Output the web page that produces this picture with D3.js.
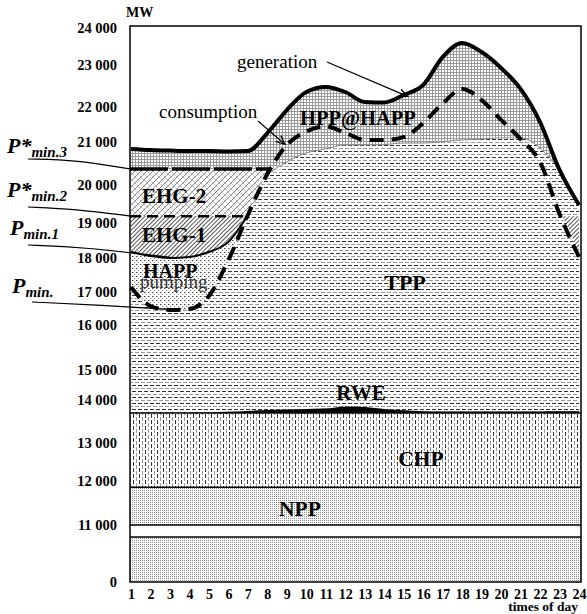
<!DOCTYPE html>
<html>
<head>
<meta charset="utf-8">
<script src="https://cdn.jsdelivr.net/npm/d3@7"></script>
<style>
  body { margin: 0; background: #fff; }
  svg text { font-family: "Liberation Serif", "Times New Roman", serif; }
</style>
</head>
<body>
<div id="chart"></div>
<script>
// Daily load curve, MW by hour
const hours = d3.range(1, 25);
const generation  = [20840, 20815, 20800, 20790, 20790, 20780, 20790, 21257, 21914, 22357, 22476, 22357,
                     22119, 22107, 22286, 22524, 23215, 23595, 23350, 22930, 22430, 21570, 20350, 19475];
const consumption = [17150, 16575, 16455, 16485, 16880, 17940, 19210, 20255, 20930, 21300, 21450, 21260,
                     21060, 21060, 21140, 21540, 22080, 22430, 22165, 21630, 21085, 20535, 19235, 18030];
// thin grey line = top of the TPP block (midday part)
const tppLine     = [null, null, null, null, null, null, null, null, 20535, 20745, 20840, 20930,
                     20930, 20940, 20975, 20975, 21010, 21057, 21085, 21115, 21115, 20860, null, null];
// P min.1 curve (night hours only)
const pMin1 = [18170, 18057, 18000, 18030, 18170, 18460, 19210];
// renewables sliver on top of CHP
const rwe = [0, 0, 0, 0, 10, 25, 45, 70, 80, 90, 100, 150, 140, 90, 60, 40, 35, 35, 35, 35, 35, 35, 40, 40];

const nppTop = 11860;
const chpTop = 13700;
const axisBreak = [10700, 11000];
const pMin2 = 19180;
const pMin3 = 20370;

const yTicks = [0, 11000, 12000, 13000, 14000, 15000, 16000, 17000, 18000, 19000, 20000, 21000, 22000, 23000, 24000];

// hand drawn axis: uneven spacing, so a piecewise scale
const yPix = [582, 537, 525, 481, 443, 400, 370, 325, 292, 258, 223, 185, 142, 107, 65, 28];

const W = 587, H = 614;
const frame = { left: 130, top: 26, right: 581, bottom: 582 };

const x = d3.scaleLinear().domain([1, 24]).range([131, 579]);
const y = d3.scaleLinear().domain([0, axisBreak[0], ...yTicks.slice(1)]).range(yPix);

const rows = hours.map((h, i) => ({
  h,
  gen: generation[i],
  cons: consumption[i],
  tpp: tppLine[i],
  p1: i < pMin1.length ? pMin1[i] : null,
  rweTop: chpTop + rwe[i]
}));
rows.forEach(d => {
  d.tppTop = Math.min(d.gen, d.tpp ?? Infinity, d.h <= 12 ? d.cons : Infinity);
});

// hour where consumption first climbs through a level
function crossing(level) {
  for (let i = 0; i < rows.length - 1; i++) {
    const a = rows[i].cons, b = rows[i + 1].cons;
    if (a < level && b >= level) return rows[i].h + (level - a) / (b - a);
  }
  return 24;
}

const svg = d3.select("#chart").append("svg")
  .attr("width", W).attr("height", H)
  .attr("viewBox", `0 0 ${W} ${H}`);

const defs = svg.append("defs");

function pattern(id, w, h, draw, transform) {
  const p = defs.append("pattern")
    .attr("id", id)
    .attr("patternUnits", "userSpaceOnUse")
    .attr("width", w).attr("height", h);
  if (transform) p.attr("patternTransform", transform);
  p.append("rect").attr("width", w).attr("height", h).attr("fill", "#fff");
  draw(p);
}

// NPP: fine dots
pattern("pNpp", 2, 2, p => {
  p.append("rect").attr("width", 1).attr("height", 1).attr("fill", "#8c8c8c");
});
// CHP: vertical dashes
pattern("pChp", 6, 6, p => {
  p.append("rect").attr("x", 1).attr("y", 0).attr("width", 1).attr("height", 4).attr("fill", "#333");
  p.append("rect").attr("x", 4).attr("y", 3).attr("width", 1).attr("height", 3).attr("fill", "#999");
  p.append("rect").attr("x", 4).attr("y", 0).attr("width", 1).attr("height", 1).attr("fill", "#999");
});
// TPP: horizontal dashes
pattern("pTpp", 6, 6, p => {
  p.append("rect").attr("x", 0).attr("y", 1).attr("width", 4).attr("height", 1).attr("fill", "#333");
  p.append("rect").attr("x", 3).attr("y", 4).attr("width", 3).attr("height", 1).attr("fill", "#999");
  p.append("rect").attr("x", 0).attr("y", 4).attr("width", 1).attr("height", 1).attr("fill", "#999");
});
// HPP@HAPP: grey grid
pattern("pGrid", 3, 3, p => {
  p.append("rect").attr("x", 0).attr("y", 0).attr("width", 3).attr("height", 1).attr("fill", "#9a9a9a");
  p.append("rect").attr("x", 0).attr("y", 0).attr("width", 1).attr("height", 3).attr("fill", "#9a9a9a");
});
// EHG-2: light cross hatch
pattern("pEhg2", 6, 6, p => {
  p.append("path").attr("d", "M0,6 L6,0 M-1,1 L1,-1 M5,7 L7,5").attr("stroke", "#666").attr("stroke-width", 0.8);
  p.append("path").attr("d", "M0,0 L6,6").attr("stroke", "#aaa").attr("stroke-width", 0.6);
});
// EHG-1: dense diagonal hatch
pattern("pEhg1", 3, 3, p => {
  p.append("rect").attr("x", 0).attr("y", 0).attr("width", 1).attr("height", 3).attr("fill", "#555");
}, "rotate(45)");
// HAPP pumping: specks
pattern("pPump", 4, 4, p => {
  p.append("rect").attr("x", 0).attr("y", 0).attr("width", 1).attr("height", 1).attr("fill", "#444");
  p.append("rect").attr("x", 2).attr("y", 2).attr("width", 1).attr("height", 1).attr("fill", "#888");
  p.append("rect").attr("x", 1).attr("y", 0).attr("width", 1).attr("height", 1).attr("fill", "#aaa");
});

defs.append("marker")
  .attr("id", "arrow")
  .attr("viewBox", "0 0 10 10")
  .attr("refX", 9).attr("refY", 5)
  .attr("markerWidth", 10).attr("markerHeight", 10)
  .attr("markerUnits", "userSpaceOnUse")
  .attr("orient", "auto")
  .append("path")
  .attr("d", "M0,1 L9,5 L0,9")
  .attr("fill", "none").attr("stroke", "#000").attr("stroke-width", 1.3);

const curve = d3.curveMonotoneX;

function area(lo, hi) {
  return d3.area().curve(curve)
    .x(d => x(d.h))
    .y0(d => y(lo(d)))
    .y1(d => y(hi(d)));
}

const g = svg.append("g");

// HPP@HAPP (everything below generation, painted over by the rest)
g.append("path").datum(rows)
  .attr("d", area(() => chpTop, d => d.gen))
  .attr("fill", "url(#pGrid)");

// TPP
g.append("path").datum(rows)
  .attr("d", area(d => d.rweTop, d => d.tppTop))
  .attr("fill", "url(#pTpp)");

// EHG-2 (night, between P*min.2 and P*min.3)
g.append("path").datum(rows.filter(d => d.h <= 12))
  .attr("d", area(d => Math.min(Math.max(d.cons, pMin2), pMin3), () => pMin3))
  .attr("fill", "url(#pEhg2)");

// EHG-1 (between P min.1 and P*min.2, plus the small late-evening wedge)
g.append("path").datum(rows)
  .attr("d", area(d => Math.min(Math.max(d.cons, d.p1 ?? -Infinity), pMin2), () => pMin2))
  .attr("fill", "url(#pEhg1)");

// HAPP pumping
const pumpRows = rows.filter(d => d.p1 != null);
g.append("path").datum(pumpRows)
  .attr("d", area(d => d.cons, d => Math.max(d.cons, d.p1)))
  .attr("fill", "url(#pPump)");

// RWE
g.append("path").datum(rows)
  .attr("d", area(() => chpTop, d => d.rweTop))
  .attr("fill", "#000");

// CHP and NPP blocks
const blocks = [
  { lo: nppTop, hi: chpTop, fill: "url(#pChp)" },
  { lo: axisBreak[1], hi: nppTop, fill: "url(#pNpp)" },
  { lo: 0, hi: axisBreak[0], fill: "url(#pNpp)" }
];
g.selectAll(".block").data(blocks).enter().append("rect")
  .attr("x", frame.left).attr("width", frame.right - frame.left)
  .attr("y", d => y(d.hi)).attr("height", d => y(d.lo) - y(d.hi))
  .attr("fill", d => d.fill);

// horizontal boundaries
g.selectAll(".hline").data([chpTop, nppTop, axisBreak[1], axisBreak[0]]).enter().append("line")
  .attr("x1", frame.left).attr("x2", frame.right)
  .attr("y1", d => y(d)).attr("y2", d => y(d))
  .attr("stroke", "#000").attr("stroke-width", 1.5);

// grey TPP top line
g.append("path").datum(rows.filter(d => d.h >= 8 && d.h <= 23))
  .attr("d", d3.line().curve(curve).x(d => x(d.h)).y(d => y(d.tppTop)))
  .attr("fill", "none").attr("stroke", "#888").attr("stroke-width", 1);

// P min.1 curve
g.append("path").datum(pumpRows)
  .attr("d", d3.line().curve(curve).x(d => x(d.h)).y(d => y(Math.max(d.cons, d.p1))))
  .attr("fill", "none").attr("stroke", "#000").attr("stroke-width", 2);

// P*min.2 and P*min.3 levels
g.append("line")
  .attr("x1", frame.left).attr("x2", x(crossing(pMin2)))
  .attr("y1", y(pMin2)).attr("y2", y(pMin2))
  .attr("stroke", "#000").attr("stroke-width", 2.5).attr("stroke-dasharray", "11,6");
g.append("line")
  .attr("x1", frame.left).attr("x2", x(crossing(pMin3)))
  .attr("y1", y(pMin3)).attr("y2", y(pMin3))
  .attr("stroke", "#000").attr("stroke-width", 3.5).attr("stroke-dasharray", "38,4");

// consumption (dashed) and generation (solid)
g.append("path").datum(rows)
  .attr("d", d3.line().curve(curve).x(d => x(d.h)).y(d => y(d.cons)))
  .attr("fill", "none").attr("stroke", "#000").attr("stroke-width", 4)
  .attr("stroke-dasharray", "14,8");
g.append("path").datum(rows)
  .attr("d", d3.line().curve(curve).x(d => x(d.h)).y(d => y(d.gen)))
  .attr("fill", "none").attr("stroke", "#000").attr("stroke-width", 4)
  .attr("stroke-linejoin", "round");

// frame
svg.append("rect")
  .attr("x", frame.left).attr("y", frame.top)
  .attr("width", frame.right - frame.left).attr("height", frame.bottom - frame.top)
  .attr("fill", "none").attr("stroke", "#000").attr("stroke-width", 1.5);

// axes
const fmt = d3.formatLocale({ decimal: ".", thousands: " ", grouping: [3], currency: ["", ""] }).format(",");

const yAxis = svg.append("g")
  .attr("transform", `translate(${frame.left},0)`)
  .call(d3.axisLeft(y).tickValues(yTicks).tickSize(0).tickPadding(13).tickFormat(fmt));
yAxis.select(".domain").remove();
yAxis.selectAll("text")
  .attr("font-family", "Liberation Serif").attr("font-weight", "bold").attr("font-size", 14.5).attr("fill", "#000");

const xAxis = svg.append("g")
  .attr("transform", `translate(0,${frame.bottom})`)
  .call(d3.axisBottom(x).tickValues(hours).tickSize(0).tickPadding(7).tickFormat(d3.format("d")));
xAxis.select(".domain").remove();
xAxis.selectAll("text")
  .attr("font-family", "Liberation Serif").attr("font-weight", "bold").attr("font-size", 14).attr("fill", "#000");

svg.append("text").attr("x", 126).attr("y", 17)
  .attr("font-weight", "bold").attr("font-size", 14).text("MW");
svg.append("text").attr("x", 578).attr("y", 611).attr("text-anchor", "end")
  .attr("font-weight", "bold").attr("font-size", 13.5).text("times of day");

// area labels
const labels = [
  { text: "HPP@HAPP", x: 300, y: 125, size: 20.5, anchor: "start", bold: true },
  { text: "EHG-2", x: 142, y: 203, size: 21, anchor: "start", bold: true },
  { text: "EHG-1", x: 142, y: 242, size: 21, anchor: "start", bold: true },
  { text: "HAPP", x: 143, y: 278, size: 20, anchor: "start", bold: true },
  { text: "pumping", x: 140, y: 288, size: 19, anchor: "start", bold: false, fill: "#333" },
  { text: "TPP", x: 405, y: 290, size: 22, anchor: "middle", bold: true },
  { text: "RWE", x: 361, y: 400, size: 21, anchor: "middle", bold: true },
  { text: "CHP", x: 421, y: 466, size: 21.5, anchor: "middle", bold: true },
  { text: "NPP", x: 300, y: 516, size: 21.5, anchor: "middle", bold: true },
  { text: "generation", x: 237, y: 68, size: 19, anchor: "start", bold: false },
  { text: "consumption", x: 159, y: 118, size: 19, anchor: "start", bold: false }
];
svg.selectAll(".lbl").data(labels).enter().append("text")
  .attr("x", d => d.x).attr("y", d => d.y)
  .attr("text-anchor", d => d.anchor)
  .attr("font-size", d => d.size)
  .attr("font-weight", d => d.bold ? "bold" : "normal")
  .attr("fill", d => d.fill || "#000")
  .text(d => d.text);

// arrows pointing at the two curves
const arrows = [
  { from: [327, 62], to: [x(15.2), y(22300) + 2] },
  { from: [258, 121], to: [x(8.9), y(20900) - 2] }
];
svg.selectAll(".arrow").data(arrows).enter().append("line")
  .attr("x1", d => d.from[0]).attr("y1", d => d.from[1])
  .attr("x2", d => d.to[0]).attr("y2", d => d.to[1])
  .attr("stroke", "#000").attr("stroke-width", 1.2)
  .attr("marker-end", "url(#arrow)");

// left labels with leader lines
const pLabels = [
  { main: "P*", sub: "min.3", x: 7, y: 153, from: [28, 159], via: [77, 160], to: [x(1), y(pMin3)] },
  { main: "P*", sub: "min.2", x: 7, y: 197, from: [28, 207], via: [75, 209], to: [x(1), y(pMin2)] },
  { main: "P", sub: "min.1", x: 10, y: 235, from: [28, 245], via: [83, 247], to: [x(3.3), y(18000)] },
  { main: "P", sub: "min.", x: 12, y: 293, from: [32, 302], via: [100, 305], to: [x(3.4), y(16455)] }
];
const pl = svg.selectAll(".plab").data(pLabels).enter().append("g");
pl.append("text")
  .attr("x", d => d.x).attr("y", d => d.y)
  .attr("font-weight", "bold").attr("font-style", "italic").attr("font-size", 22)
  .text(d => d.main)
  .append("tspan").attr("font-size", 15).attr("dy", 4).text(d => d.sub);
pl.append("path")
  .attr("d", d => d3.line().curve(d3.curveBasis)([d.from, d.via, d.to]))
  .attr("fill", "none").attr("stroke", "#000").attr("stroke-width", 1.2);
</script>
</body>
</html>
